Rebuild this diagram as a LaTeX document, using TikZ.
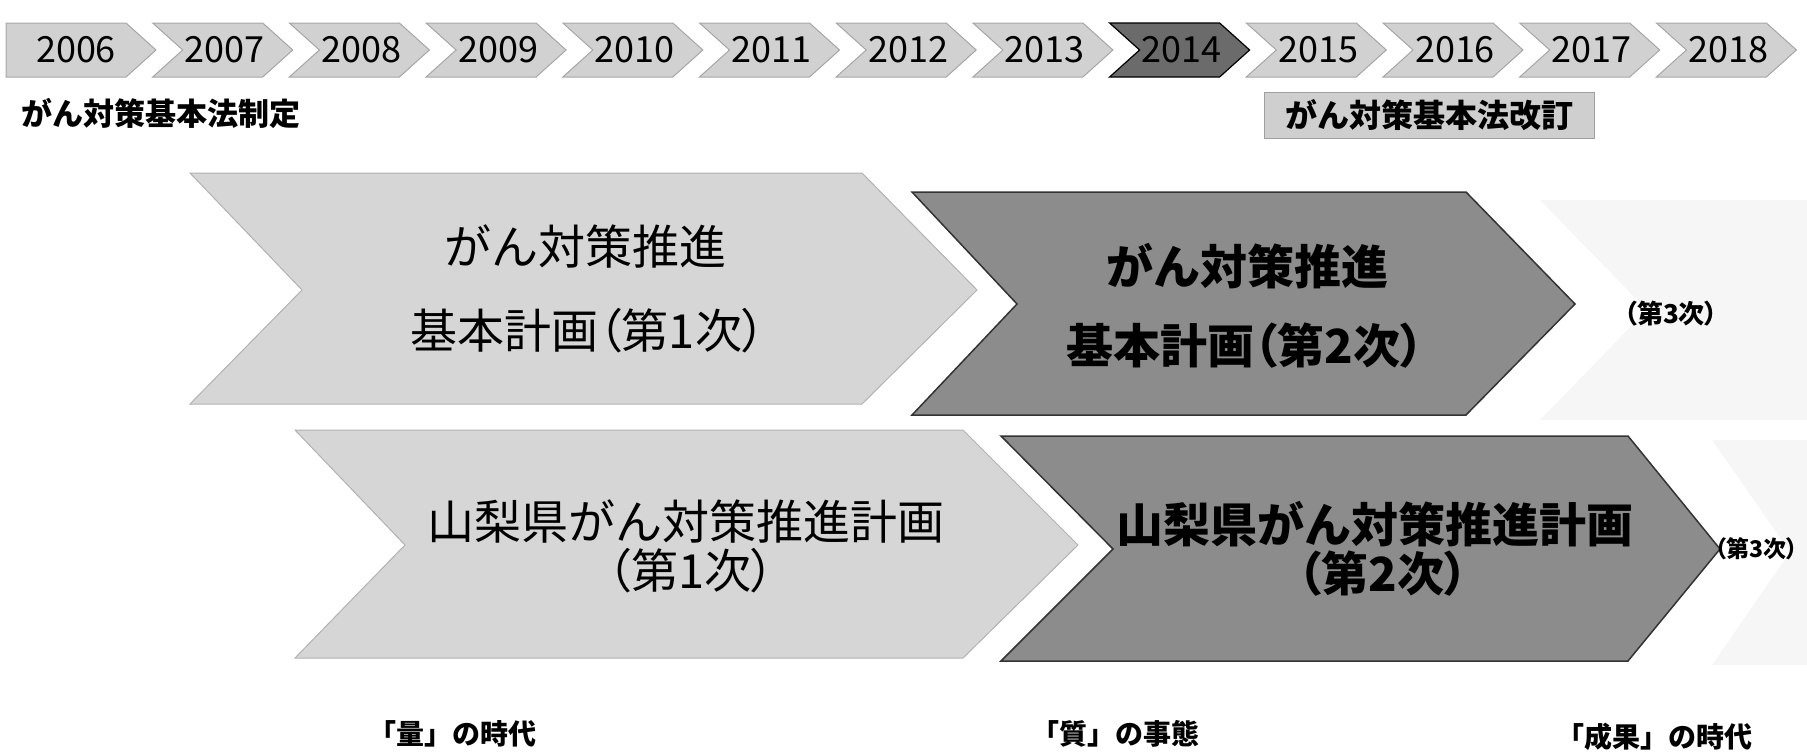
\documentclass[tikz,border=0pt]{standalone}
\usepackage{fontspec}
\setmainfont{Noto Sans CJK JP}
\newfontfamily\jpp{Noto Sans CJK JP}[RawFeature=+palt]
\definecolor{lightfill}{gray}{0.82}
\definecolor{darkfill}{gray}{0.55}
\definecolor{ghost}{gray}{0.965}
\tikzset{
  tl/.style={fill=lightfill, draw=gray!70, line width=1pt, line join=miter},
  tldark/.style={fill=black!58, draw=black, line width=1.2pt, line join=miter},
  planlight/.style={fill=lightfill!90, draw=gray!60, line width=1pt, line join=miter},
  plandark/.style={fill=darkfill, draw=black!80, line width=1.5pt, line join=miter},
  ghostchev/.style={fill=ghost, draw=none},
  yeartext/.style={inner sep=0pt, font=\fontsize{36}{40}\selectfont},
  bigtext/.style={inner sep=0pt, font=\fontsize{47}{52}\selectfont},
  bigbold/.style={inner sep=0pt, font=\fontsize{47}{52}\selectfont\bfseries},
  smalltext/.style={inner sep=0pt, font=\fontsize{26}{30}\selectfont\bfseries},
  edgetext/.style={inner sep=0pt, font=\fontsize{23}{27}\selectfont\bfseries},
  labeltext/.style={inner sep=0pt, font=\fontsize{31}{34}\selectfont\bfseries},
  eratext/.style={inner sep=0pt, font=\fontsize{28}{32}\selectfont\bfseries},
  lawbox/.style={fill=gray!38, draw=gray!75, line width=1pt, minimum width=330pt,
    minimum height=46pt, inner sep=0pt, font=\fontsize{32}{35}\selectfont\bfseries}
}
\begin{document}
\begin{tikzpicture}[x=1pt,y=-1pt]
\useasboundingbox (0,0) rectangle (1807,755);

% ---------- timeline ----------
\draw[tl] (6,23) -- (126,23) -- (156,50) -- (126,77) -- (6,77) -- cycle;
\node[yeartext] (y2006) at (76,50) {2006};
\foreach \i/\yr in {1/2007,2/2008,3/2009,4/2010,5/2011,6/2012,7/2013,9/2015,10/2016,11/2017,12/2018}{
  \pgfmathsetmacro\L{16+136.7*\i}
  \draw[tl] (\L,23) -- ({\L+110},23) -- ({\L+140},50) -- ({\L+110},77) -- (\L,77) -- ({\L+30},50) -- cycle;
  \node[yeartext] (y\yr) at ({\L+72},50) {\yr};
}
\pgfmathsetmacro\L{16+136.7*8}
\draw[tldark] (\L,23) -- ({\L+110},23) -- ({\L+140},50) -- ({\L+110},77) -- (\L,77) -- ({\L+30},50) -- cycle;
\node[yeartext] (y2014) at ({\L+72},50) {2014};

% ---------- law labels ----------
\node[labeltext, anchor=west] (enact) at (21,113) {がん対策基本法制定};
\node[lawbox] (revise) at (1429,115) {がん対策基本法改訂};

% ---------- ghost third plans ----------
\draw[ghostchev] (1540,200) -- (1807,200) -- (1807,420) -- (1540,420) -- (1647,310) -- cycle;
\draw[ghostchev] (1712,440) -- (1807,440) -- (1807,665) -- (1712,665) -- (1790,552) -- cycle;

% ---------- national plans ----------
\draw[planlight] (190,173) -- (862,173) -- (977,290) -- (862,404) -- (190,404) -- (302,290) -- cycle;
\draw[plandark] (912,192) -- (1466,192) -- (1575,304) -- (1466,415) -- (912,415) -- (1017,304) -- cycle;

% ---------- prefectural plans ----------
\draw[planlight] (295,430) -- (963,430) -- (1078,545) -- (963,658) -- (295,658) -- (405,545) -- cycle;
\draw[plandark] (1001,436) -- (1628,436) -- (1720,549) -- (1628,661) -- (1001,661) -- (1113,549) -- cycle;

% ---------- plan texts ----------
\node[bigtext] (n1a) at (585,246) {がん対策推進};
\node[bigtext] (n1b) at (588,331) {\jpp 基本計画（第1次）};
\node[bigbold] (n2a) at (1247,266) {がん対策推進};
\node[bigbold] (n2b) at (1245,346) {\jpp 基本計画（第2次）};
\node[smalltext] (n3) at (1671,314) {\jpp （第3次）};

\node[bigtext] (p1a) at (686,521) {山梨県がん対策推進計画};
\node[bigtext] (p1b) at (691,571) {\jpp （第1次）};
\node[bigbold] (p2a) at (1375,524) {山梨県がん対策推進計画};
\node[bigbold] (p2b) at (1383,574) {\jpp （第2次）};
\node[edgetext, anchor=east] (p3) at (1798,549) {\jpp （第3次）};

% ---------- era labels ----------
\node[eratext] (era1) at (452,734) {「量」の時代};
\node[eratext] (era2) at (1115,734) {「質」の事態};
\node[eratext] (era3) at (1654,737) {「成果」の時代};
\end{tikzpicture}
\end{document}
